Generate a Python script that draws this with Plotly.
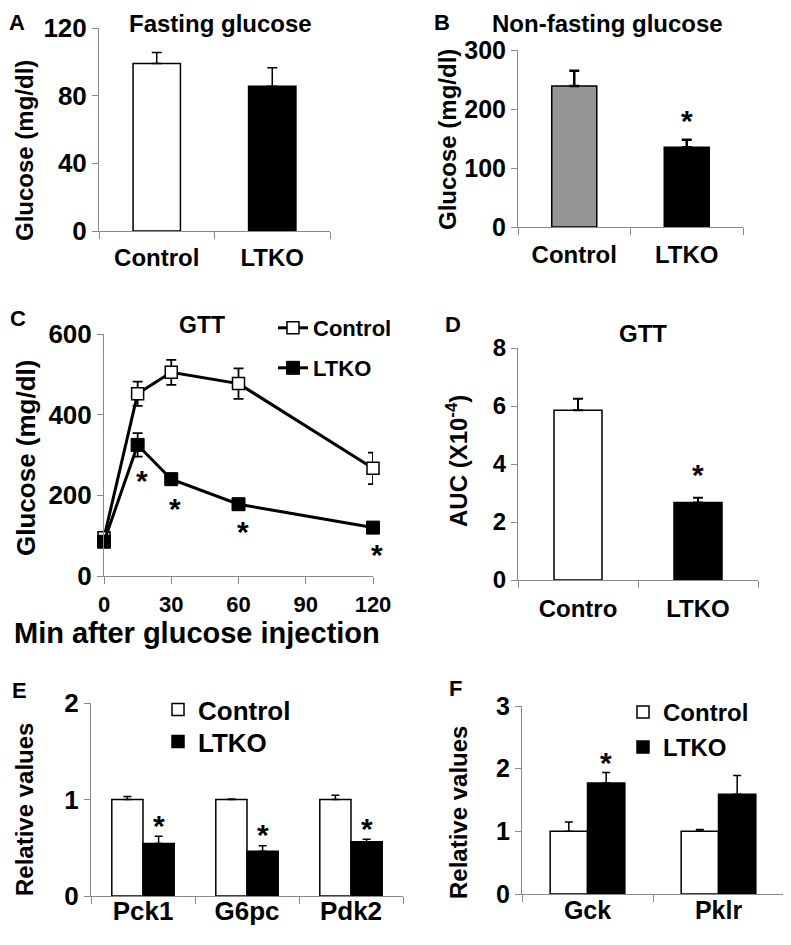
import plotly.graph_objects as go

# The page body adds an 8px margin, so the figure is drawn 8px smaller and all
# reference pixel positions are converted with that offset.
REF_W, REF_H = 791, 945
OFF = 8
W, H = REF_W - OFF, REF_H - OFF
FONT = "Liberation Sans, Arial, sans-serif"
GREY = "#8a8a8a"

# ---------------- data ----------------
# Panel A: fasting glucose
a_groups = ["Control", "LTKO"]
a_mean = [99, 85.5]
a_err = [6.5, 11]

# Panel B: non-fasting glucose
b_groups = ["Control", "LTKO"]
b_mean = [239, 135]
b_err = [26, 13]

# Panel C: GTT time course
c_time = [0, 15, 30, 60, 120]
c_control = [95, 452, 505, 477, 267]
c_control_err = [8, 30, 31, 38, 39]
c_ltko = [85, 325, 240, 178, 120]
c_ltko_err = [8, 29, 14, 9, 7]
c_sig_time = [15, 30, 60, 120]

# Panel D: GTT AUC
d_groups = ["Contro", "LTKO"]
d_auc = [5.85, 2.67]
d_err = [0.4, 0.17]

# Panel E: gluconeogenic genes
e_genes = ["Pck1", "G6pc", "Pdk2"]
e_control = [1.0, 1.0, 1.0]
e_control_err = [0.03, 0.005, 0.045]
e_ltko = [0.545, 0.465, 0.563]
e_ltko_err = [0.075, 0.055, 0.025]

# Panel F: glycolytic genes
f_genes = ["Gck", "Pklr"]
f_control = [1.0, 1.0]
f_control_err = [0.15, 0.03]
f_ltko = [1.77, 1.59]
f_ltko_err = [0.17, 0.30]


def px(x):
    return (x - OFF) / W


def py(y):
    return 1 - (y - OFF) / H


def xd(a, b):
    return [px(a), px(b)]


def yd(top, bottom):
    return [py(bottom), py(top)]


def bold(size):
    return dict(family=FONT, size=size, color="black", weight="bold")


fig = go.Figure()

# ---- A ----
fig.add_trace(go.Bar(
    x=a_groups, y=a_mean, xaxis="x", yaxis="y", width=0.41,
    marker=dict(color=["white", "black"], line=dict(color="black", width=1.5)),
    error_y=dict(type="data", array=a_err, arrayminus=[0, 0], symmetric=False,
                 color="black", thickness=1.5, width=5),
    showlegend=False))

# ---- B ----
fig.add_trace(go.Bar(
    x=b_groups, y=b_mean, xaxis="x2", yaxis="y2", width=0.4,
    marker=dict(color=["#969696", "black"], line=dict(color="black", width=1.5)),
    error_y=dict(type="data", array=b_err, arrayminus=[0, 0], symmetric=False,
                 color="black", thickness=2.5, width=5),
    showlegend=False))

# ---- C ----
fig.add_trace(go.Scatter(
    x=c_time, y=c_control, xaxis="x3", yaxis="y3", name="Control",
    mode="lines+markers", cliponaxis=False,
    line=dict(color="black", width=3),
    marker=dict(symbol="square", size=12, color="white", line=dict(color="black", width=1.5)),
    error_y=dict(type="data", array=c_control_err, color="black", thickness=1.8, width=5),
    legend="legend"))
fig.add_trace(go.Scatter(
    x=c_time, y=c_ltko, xaxis="x3", yaxis="y3", name="LTKO",
    mode="lines+markers", cliponaxis=False,
    line=dict(color="black", width=3),
    marker=dict(symbol="square", size=13, color="black", line=dict(color="black", width=1)),
    error_y=dict(type="data", array=c_ltko_err, color="black", thickness=1.8, width=5),
    legend="legend2"))

# ---- D ----
fig.add_trace(go.Bar(
    x=d_groups, y=d_auc, xaxis="x4", yaxis="y4", width=0.4,
    marker=dict(color=["white", "black"], line=dict(color="black", width=1.5)),
    error_y=dict(type="data", array=d_err, arrayminus=[0, 0], symmetric=False,
                 color="black", thickness=2, width=5),
    showlegend=False))

# ---- E ----
fig.add_trace(go.Bar(
    x=e_genes, y=e_control, xaxis="x5", yaxis="y5", name="Control",
    width=0.3, offset=-0.3,
    marker=dict(color="white", line=dict(color="black", width=1.5)),
    error_y=dict(type="data", array=e_control_err, arrayminus=[0, 0, 0], symmetric=False,
                 color="black", thickness=1.5, width=4),
    legend="legend3"))
fig.add_trace(go.Bar(
    x=e_genes, y=e_ltko, xaxis="x5", yaxis="y5", name="LTKO",
    width=0.3, offset=0.0,
    marker=dict(color="black", line=dict(color="black", width=1.5)),
    error_y=dict(type="data", array=e_ltko_err, arrayminus=[0, 0, 0], symmetric=False,
                 color="black", thickness=1.5, width=4),
    legend="legend4"))

# ---- F ----
fig.add_trace(go.Bar(
    x=f_genes, y=f_control, xaxis="x6", yaxis="y6", name="Control",
    width=0.285, offset=-0.285,
    marker=dict(color="white", line=dict(color="black", width=1.5)),
    error_y=dict(type="data", array=f_control_err, arrayminus=[0, 0], symmetric=False,
                 color="black", thickness=1.5, width=4),
    legend="legend5"))
fig.add_trace(go.Bar(
    x=f_genes, y=f_ltko, xaxis="x6", yaxis="y6", name="LTKO",
    width=0.285, offset=0.0,
    marker=dict(color="black", line=dict(color="black", width=1.5)),
    error_y=dict(type="data", array=f_ltko_err, arrayminus=[0, 0], symmetric=False,
                 color="black", thickness=1.5, width=4),
    legend="legend6"))


def yax(dom, rng, dtick, anchor, size):
    return dict(domain=dom, range=rng, dtick=dtick, tick0=0, anchor=anchor,
                showline=True, linecolor=GREY, linewidth=1, ticks="outside",
                ticklen=6, tickcolor=GREY, showgrid=False, zeroline=False,
                tickfont=bold(size), fixedrange=True, automargin=False)


def xcat(dom, anchor, size, standoff):
    return dict(domain=dom, anchor=anchor, type="category", tickson="boundaries",
                showline=True, linecolor=GREY, linewidth=1, ticks="outside",
                ticklen=7, tickcolor=GREY, showgrid=False, zeroline=False,
                tickfont=bold(size), ticklabelstandoff=standoff, fixedrange=True,
                automargin=False)


def leg(x, top, size):
    return dict(x=px(x), y=py(top), xanchor="left", yanchor="top",
                font=bold(size), bgcolor="rgba(0,0,0,0)")


layout = dict(
    template="none",
    width=W, height=H, margin=dict(l=0, r=0, t=0, b=0, pad=0, autoexpand=False),
    paper_bgcolor="white", plot_bgcolor="white",
    barmode="overlay", font=dict(family=FONT, color="black"),
    xaxis=xcat(xd(99, 330), "y", 24, 5),
    yaxis=yax(yd(28, 231), [0, 120], 40, "x", 26),
    xaxis2=xcat(xd(518, 743), "y2", 24, 6),
    yaxis2=yax(yd(50, 227), [0, 300], 100, "x2", 25),
    xaxis3=dict(domain=xd(104, 373), anchor="y3", range=[0, 120], dtick=30, tick0=0,
                showline=True, linecolor=GREY, linewidth=1, ticks="outside", ticklen=7,
                tickcolor=GREY, showgrid=False, zeroline=False, tickfont=bold(22),
                ticklabelstandoff=2, fixedrange=True, automargin=False),
    yaxis3=yax(yd(334, 576), [0, 600], 200, "x3", 26),
    xaxis4=xcat(xd(518, 758), "y4", 24, 7),
    yaxis4=yax(yd(348, 580), [0, 8], 2, "x4", 24),
    xaxis5=xcat(xd(91, 403), "y5", 26, -8),
    yaxis5=yax(yd(703, 896), [0, 2], 1, "x5", 26),
    xaxis6=xcat(xd(522, 784), "y6", 25, -6),
    yaxis6=yax(yd(706, 894), [0, 3], 1, "x6", 25),
    legend=leg(273, 307, 22),
    legend2=leg(273, 347, 22),
    legend3=leg(158, 686, 26),
    legend4=leg(158, 718, 26),
    legend5=leg(623, 690, 24),
    legend6=leg(623, 725, 24),
)
fig.update_layout(**layout)

ann = []


def txt(x, y, s, size, angle=0, yanchor="middle"):
    ann.append(dict(x=px(x), y=py(y), xref="paper", yref="paper", text=s,
                    showarrow=False, font=bold(size), textangle=angle,
                    xanchor="center", yanchor=yanchor))


# panel letters (top row anchored at the top edge so they are not cut off)
txt(17, 8.5, "A", 22, yanchor="top")
txt(442, 8.5, "B", 22, yanchor="top")
txt(18, 318, "C", 22)
txt(453, 325, "D", 22)
txt(19, 690, "E", 22)
txt(455, 688, "F", 22)

# titles
txt(220, 8.5, "Fasting glucose", 24, yanchor="top")
txt(607, 8.5, "Non-fasting glucose", 24, yanchor="top")
txt(202, 325, "GTT", 23)
txt(643, 333, "GTT", 24)

# axis titles
txt(24, 151, "Glucose (mg/dl)", 24, -90)
txt(447, 140, "Glucose (mg/dl)", 24, -90)
txt(26, 458, "Glucose (mg/dl)", 26, -90)
txt(457, 461, "AUC (X10<sup>-4</sup>)", 24, -90)
txt(24, 810, "Relative values", 24, -90)
txt(458, 813, "Relative values", 24, -90)
txt(197, 633, "Min after glucose injection", 29)


def star(xref, yref, x, y, shift, xshift=0):
    ann.append(dict(x=x, y=y, xref=xref, yref=yref, text="*", showarrow=False,
                    font=bold(30), xanchor="center", yanchor="middle",
                    yshift=shift, xshift=xshift))


# significance stars
star("x2", "y2", 1, b_mean[1] + b_err[1], 19)
for t in c_sig_time:
    i = c_time.index(t)
    star("x3", "y3", t, c_ltko[i] - c_ltko_err[i], -24, 4)
star("x4", "y4", 1, d_auc[1] + d_err[1], 23)
for i in range(len(e_genes)):
    star("x5", "y5", i + 0.15, e_ltko[i] + e_ltko_err[i], 11)
star("x6", "y6", 0 + 0.1425, f_ltko[0] + f_ltko_err[0], 10)

fig.update_layout(annotations=ann)
fig.write_html("out.html")
